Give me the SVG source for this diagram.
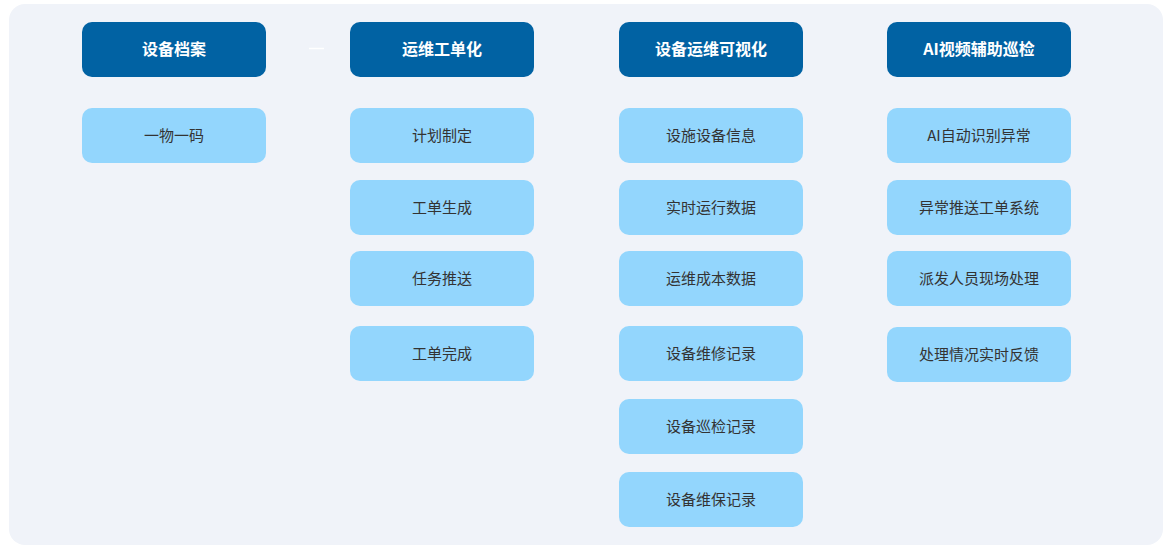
<svg xmlns="http://www.w3.org/2000/svg" width="1174" height="550" viewBox="0 0 1174 550">
<style>
.h rect{fill:#0162a3}
.h text{fill:#fff;font:bold 16px "Noto Sans CJK SC","Noto Sans",sans-serif;text-anchor:middle}
.s rect{fill:#93d6fd}
.s text{fill:#333;font:15px "Noto Sans CJK SC","Noto Sans",sans-serif;text-anchor:middle}
</style>
<rect x="0" y="0" width="1174" height="550" fill="#fff"/>
<rect x="9" y="4" width="1154" height="541" rx="16" fill="#f0f3f9"/>
<g id="connectors"><line x1="309" y1="48.5" x2="324" y2="48.5" stroke="#fff" stroke-width="1.5"/></g>
<g id="h1" class="h"><rect x="82" y="22" width="184" height="55" rx="10"/><text x="174" y="55">设备档案</text></g>
<g id="h2" class="h"><rect x="350" y="22" width="184" height="55" rx="10"/><text x="442" y="55">运维工单化</text></g>
<g id="h3" class="h"><rect x="619" y="22" width="184" height="55" rx="10"/><text x="711" y="55">设备运维可视化</text></g>
<g id="h4" class="h"><rect x="887" y="22" width="184" height="55" rx="10"/><text x="979" y="55">AI视频辅助巡检</text></g>
<g id="a1" class="s"><rect x="82" y="108" width="184" height="55" rx="10"/><text x="174" y="141">一物一码</text></g>
<g id="b1" class="s"><rect x="350" y="108" width="184" height="55" rx="10"/><text x="442" y="141">计划制定</text></g>
<g id="b2" class="s"><rect x="350" y="180" width="184" height="55" rx="10"/><text x="442" y="213">工单生成</text></g>
<g id="b3" class="s"><rect x="350" y="251" width="184" height="55" rx="10"/><text x="442" y="284">任务推送</text></g>
<g id="b4" class="s"><rect x="350" y="326" width="184" height="55" rx="10"/><text x="442" y="359">工单完成</text></g>
<g id="c1" class="s"><rect x="619" y="108" width="184" height="55" rx="10"/><text x="711" y="141">设施设备信息</text></g>
<g id="c2" class="s"><rect x="619" y="180" width="184" height="55" rx="10"/><text x="711" y="213">实时运行数据</text></g>
<g id="c3" class="s"><rect x="619" y="251" width="184" height="55" rx="10"/><text x="711" y="284">运维成本数据</text></g>
<g id="c4" class="s"><rect x="619" y="326" width="184" height="55" rx="10"/><text x="711" y="359">设备维修记录</text></g>
<g id="c5" class="s"><rect x="619" y="399" width="184" height="55" rx="10"/><text x="711" y="432">设备巡检记录</text></g>
<g id="c6" class="s"><rect x="619" y="472" width="184" height="55" rx="10"/><text x="711" y="505">设备维保记录</text></g>
<g id="d1" class="s"><rect x="887" y="108" width="184" height="55" rx="10"/><text x="979" y="141">AI自动识别异常</text></g>
<g id="d2" class="s"><rect x="887" y="180" width="184" height="55" rx="10"/><text x="979" y="213">异常推送工单系统</text></g>
<g id="d3" class="s"><rect x="887" y="251" width="184" height="55" rx="10"/><text x="979" y="284">派发人员现场处理</text></g>
<g id="d4" class="s"><rect x="887" y="327" width="184" height="55" rx="10"/><text x="979" y="360">处理情况实时反馈</text></g>
</svg>
